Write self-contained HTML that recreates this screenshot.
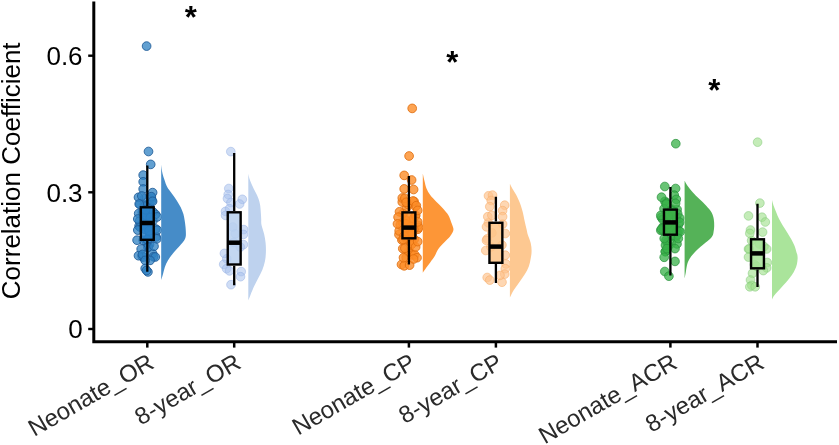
<!DOCTYPE html>
<html><head><meta charset="utf-8"><title>Correlation Coefficient plot</title>
<style>html,body{margin:0;padding:0;background:#fff}body{width:839px;height:445px;overflow:hidden}</style>
</head><body>
<svg width="839" height="445" viewBox="0 0 839 445" style="display:block">
<rect width="839" height="445" fill="#fff"/>
<g fill="rgba(49,130,195,0.76)" stroke="rgba(30,90,150,0.85)" stroke-width="1">
<circle cx="149.2" cy="205.0" r="4.35"/>
<circle cx="151.4" cy="198.3" r="4.35"/>
<circle cx="144.3" cy="204.7" r="4.35"/>
<circle cx="139.9" cy="204.2" r="4.35"/>
<circle cx="151.8" cy="200.7" r="4.35"/>
<circle cx="144.3" cy="198.8" r="4.35"/>
<circle cx="143.0" cy="223.4" r="4.35"/>
<circle cx="147.4" cy="227.6" r="4.35"/>
<circle cx="156.0" cy="236.9" r="4.35"/>
<circle cx="149.5" cy="244.6" r="4.35"/>
<circle cx="142.3" cy="212.2" r="4.35"/>
<circle cx="149.3" cy="207.7" r="4.35"/>
<circle cx="139.1" cy="226.1" r="4.35"/>
<circle cx="146.7" cy="241.8" r="4.35"/>
<circle cx="149.6" cy="226.1" r="4.35"/>
<circle cx="147.2" cy="215.7" r="4.35"/>
<circle cx="138.7" cy="213.5" r="4.35"/>
<circle cx="150.7" cy="213.8" r="4.35"/>
<circle cx="145.0" cy="206.1" r="4.35"/>
<circle cx="153.1" cy="212.0" r="4.35"/>
<circle cx="143.2" cy="240.3" r="4.35"/>
<circle cx="147.5" cy="239.0" r="4.35"/>
<circle cx="149.8" cy="234.9" r="4.35"/>
<circle cx="140.1" cy="227.1" r="4.35"/>
<circle cx="147.4" cy="240.0" r="4.35"/>
<circle cx="144.9" cy="229.3" r="4.35"/>
<circle cx="139.5" cy="221.1" r="4.35"/>
<circle cx="144.2" cy="211.9" r="4.35"/>
<circle cx="152.9" cy="220.8" r="4.35"/>
<circle cx="155.7" cy="229.0" r="4.35"/>
<circle cx="149.1" cy="230.9" r="4.35"/>
<circle cx="150.4" cy="211.9" r="4.35"/>
<circle cx="146.2" cy="215.3" r="4.35"/>
<circle cx="145.6" cy="209.8" r="4.35"/>
<circle cx="155.5" cy="214.4" r="4.35"/>
<circle cx="150.3" cy="217.7" r="4.35"/>
<circle cx="152.5" cy="253.6" r="4.35"/>
<circle cx="142.1" cy="256.0" r="4.35"/>
<circle cx="153.5" cy="256.8" r="4.35"/>
<circle cx="148.3" cy="246.9" r="4.35"/>
<circle cx="143.0" cy="257.1" r="4.35"/>
<circle cx="148.0" cy="247.3" r="4.35"/>
<circle cx="143.2" cy="175.1" r="4.35"/>
<circle cx="143.2" cy="181.8" r="4.35"/>
<circle cx="143.2" cy="189.0" r="4.35"/>
<circle cx="152.6" cy="192.6" r="4.35"/>
<circle cx="138.5" cy="197.3" r="4.35"/>
<circle cx="141.8" cy="196.0" r="4.35"/>
<circle cx="151.3" cy="196.7" r="4.35"/>
<circle cx="152.6" cy="201.4" r="4.35"/>
<circle cx="139.2" cy="204.0" r="4.35"/>
<circle cx="157.3" cy="216.9" r="4.35"/>
<circle cx="137.8" cy="219.0" r="4.35"/>
<circle cx="137.8" cy="230.1" r="4.35"/>
<circle cx="157.3" cy="230.1" r="4.35"/>
<circle cx="137.1" cy="240.2" r="4.35"/>
<circle cx="156.7" cy="238.9" r="4.35"/>
<circle cx="154.0" cy="246.3" r="4.35"/>
<circle cx="141.2" cy="249.0" r="4.35"/>
<circle cx="138.5" cy="255.7" r="4.35"/>
<circle cx="142.5" cy="254.4" r="4.35"/>
<circle cx="155.3" cy="257.0" r="4.35"/>
<circle cx="150.0" cy="260.4" r="4.35"/>
<circle cx="145.2" cy="260.4" r="4.35"/>
<circle cx="145.2" cy="268.5" r="4.35"/>
<circle cx="147.9" cy="271.9" r="4.35"/>
<circle cx="146.6" cy="270.5" r="4.35"/>
<circle cx="146.6" cy="46.1" r="4.35"/>
<circle cx="148.5" cy="151.5" r="4.35"/>
<circle cx="150.7" cy="164.4" r="4.35"/>
</g>
<path d="M161.2,164.7C161.4,166.2 161.9,170.9 162.5,173.5C163.1,176.1 163.8,177.9 164.6,180.2C165.4,182.4 166.0,184.8 167.2,187.0C168.4,189.2 170.4,191.5 172.0,193.7C173.6,195.9 175.2,198.2 176.7,200.4C178.1,202.7 179.6,204.9 180.7,207.2C181.8,209.4 182.7,211.8 183.4,213.9C184.0,216.0 184.2,217.9 184.6,220.0C184.9,222.1 185.3,224.4 185.5,226.7C185.7,228.9 185.9,231.7 185.9,233.5C185.9,235.3 185.9,236.2 185.5,237.5C185.1,238.8 184.5,240.0 183.4,241.6C182.3,243.2 180.5,245.0 178.7,247.0C176.9,249.0 174.5,251.5 172.7,253.7C170.9,255.9 169.2,258.1 167.9,260.4C166.6,262.6 165.6,264.9 164.8,267.2C164.0,269.4 163.6,271.8 163.0,273.9C162.4,276.0 161.5,279.0 161.2,280.0Z" fill="#468CC8"/>
<path d="M147.3,165.4V206.1M147.3,241.0V271.8" stroke="#000" stroke-width="2.3" fill="none"/>
<rect x="140.85" y="207.3" width="12.9" height="32.5" fill="rgba(40,128,200,0.85)" stroke="#000" stroke-width="2.4"/>
<path d="M140.85,223.0H153.75" stroke="#000" stroke-width="4.5"/>
<g fill="rgba(170,195,238,0.56)" stroke="rgba(150,175,228,0.5)" stroke-width="1">
<circle cx="240.3" cy="247.1" r="4.35"/>
<circle cx="235.3" cy="233.8" r="4.35"/>
<circle cx="232.8" cy="227.0" r="4.35"/>
<circle cx="226.8" cy="258.8" r="4.35"/>
<circle cx="233.7" cy="242.4" r="4.35"/>
<circle cx="228.8" cy="188.5" r="4.35"/>
<circle cx="228.2" cy="194.5" r="4.35"/>
<circle cx="227.5" cy="198.6" r="4.35"/>
<circle cx="242.3" cy="199.3" r="4.35"/>
<circle cx="239.6" cy="204.0" r="4.35"/>
<circle cx="230.9" cy="202.6" r="4.35"/>
<circle cx="225.5" cy="211.4" r="4.35"/>
<circle cx="229.5" cy="208.7" r="4.35"/>
<circle cx="243.7" cy="229.6" r="4.35"/>
<circle cx="225.5" cy="215.4" r="4.35"/>
<circle cx="224.4" cy="253.4" r="4.35"/>
<circle cx="223.7" cy="264.3" r="4.35"/>
<circle cx="226.6" cy="268.7" r="4.35"/>
<circle cx="241.2" cy="271.6" r="4.35"/>
<circle cx="240.5" cy="276.7" r="4.35"/>
<circle cx="231.0" cy="284.7" r="4.35"/>
<circle cx="243.4" cy="244.6" r="4.35"/>
<circle cx="243.4" cy="234.4" r="4.35"/>
<circle cx="229.5" cy="270.9" r="4.35"/>
<circle cx="230.8" cy="151.6" r="4.35"/>
</g>
<path d="M248.3,173.8C248.5,174.6 248.8,176.6 249.4,178.5C250.0,180.4 251.1,182.9 252.1,185.2C253.1,187.4 254.3,189.8 255.4,192.0C256.5,194.2 257.7,196.5 258.5,198.7C259.3,200.9 259.8,203.2 260.2,205.4C260.6,207.7 260.6,209.9 260.8,212.2C261.0,214.4 261.1,216.8 261.2,218.9C261.3,221.0 261.0,222.5 261.5,225.0C262.0,227.5 263.4,231.0 264.1,234.0C264.8,237.0 265.3,240.0 265.6,243.0C265.9,246.0 266.0,249.0 265.9,252.0C265.8,255.0 265.6,258.0 265.0,261.0C264.4,264.0 263.5,267.0 262.3,270.0C261.1,273.0 259.3,276.0 257.8,279.0C256.3,282.0 254.7,285.0 253.3,288.0C252.0,291.0 250.5,294.9 249.7,297.0C248.9,299.1 248.5,299.9 248.3,300.5Z" fill="#BED2EE"/>
<path d="M234.2,152.9V211.1M234.2,265.7V285.3" stroke="#000" stroke-width="2.3" fill="none"/>
<rect x="227.75" y="212.3" width="12.9" height="52.2" fill="rgba(185,208,238,0.85)" stroke="#000" stroke-width="2.4"/>
<path d="M227.75,242.7H240.65" stroke="#000" stroke-width="4.5"/>
<g fill="rgba(253,141,40,0.8)" stroke="rgba(225,110,15,0.85)" stroke-width="1">
<circle cx="406.4" cy="208.0" r="4.35"/>
<circle cx="402.3" cy="202.0" r="4.35"/>
<circle cx="402.3" cy="198.0" r="4.35"/>
<circle cx="415.4" cy="206.5" r="4.35"/>
<circle cx="407.9" cy="204.4" r="4.35"/>
<circle cx="414.1" cy="201.5" r="4.35"/>
<circle cx="410.7" cy="232.5" r="4.35"/>
<circle cx="406.0" cy="227.6" r="4.35"/>
<circle cx="414.2" cy="239.3" r="4.35"/>
<circle cx="401.9" cy="240.0" r="4.35"/>
<circle cx="399.0" cy="234.6" r="4.35"/>
<circle cx="415.1" cy="216.1" r="4.35"/>
<circle cx="407.3" cy="236.5" r="4.35"/>
<circle cx="399.2" cy="230.9" r="4.35"/>
<circle cx="414.8" cy="227.4" r="4.35"/>
<circle cx="413.4" cy="218.8" r="4.35"/>
<circle cx="402.9" cy="222.9" r="4.35"/>
<circle cx="402.5" cy="222.4" r="4.35"/>
<circle cx="417.9" cy="229.2" r="4.35"/>
<circle cx="405.7" cy="220.1" r="4.35"/>
<circle cx="417.9" cy="225.3" r="4.35"/>
<circle cx="418.5" cy="227.5" r="4.35"/>
<circle cx="409.3" cy="238.9" r="4.35"/>
<circle cx="413.8" cy="229.4" r="4.35"/>
<circle cx="407.4" cy="238.3" r="4.35"/>
<circle cx="407.1" cy="239.7" r="4.35"/>
<circle cx="400.3" cy="224.9" r="4.35"/>
<circle cx="409.3" cy="240.5" r="4.35"/>
<circle cx="403.9" cy="236.2" r="4.35"/>
<circle cx="412.4" cy="233.5" r="4.35"/>
<circle cx="411.5" cy="241.1" r="4.35"/>
<circle cx="405.6" cy="223.9" r="4.35"/>
<circle cx="403.0" cy="213.5" r="4.35"/>
<circle cx="403.2" cy="239.5" r="4.35"/>
<circle cx="415.7" cy="215.4" r="4.35"/>
<circle cx="411.0" cy="226.4" r="4.35"/>
<circle cx="410.2" cy="252.5" r="4.35"/>
<circle cx="406.2" cy="257.4" r="4.35"/>
<circle cx="408.4" cy="252.0" r="4.35"/>
<circle cx="410.8" cy="244.9" r="4.35"/>
<circle cx="402.8" cy="248.6" r="4.35"/>
<circle cx="412.6" cy="255.0" r="4.35"/>
<circle cx="412.1" cy="243.8" r="4.35"/>
<circle cx="414.7" cy="254.8" r="4.35"/>
<circle cx="404.2" cy="188.9" r="4.35"/>
<circle cx="413.6" cy="189.5" r="4.35"/>
<circle cx="404.9" cy="198.3" r="4.35"/>
<circle cx="406.2" cy="202.3" r="4.35"/>
<circle cx="413.0" cy="201.0" r="4.35"/>
<circle cx="416.3" cy="205.7" r="4.35"/>
<circle cx="417.7" cy="210.4" r="4.35"/>
<circle cx="399.5" cy="211.8" r="4.35"/>
<circle cx="398.1" cy="217.2" r="4.35"/>
<circle cx="397.5" cy="223.9" r="4.35"/>
<circle cx="417.7" cy="221.9" r="4.35"/>
<circle cx="401.5" cy="264.5" r="4.35"/>
<circle cx="404.2" cy="265.8" r="4.35"/>
<circle cx="409.6" cy="265.1" r="4.35"/>
<circle cx="417.0" cy="257.7" r="4.35"/>
<circle cx="413.6" cy="259.0" r="4.35"/>
<circle cx="403.5" cy="257.7" r="4.35"/>
<circle cx="404.9" cy="248.3" r="4.35"/>
<circle cx="415.6" cy="247.0" r="4.35"/>
<circle cx="417.7" cy="241.6" r="4.35"/>
<circle cx="412.2" cy="108.4" r="4.35"/>
<circle cx="409.1" cy="156.0" r="4.35"/>
<circle cx="404.2" cy="175.4" r="4.35"/>
<circle cx="411.6" cy="180.0" r="4.35"/>
</g>
<path d="M422.8,173.4C423.1,174.8 424.0,179.0 424.6,181.5C425.2,184.0 425.5,185.9 426.4,188.2C427.3,190.4 428.6,192.8 430.2,195.0C431.8,197.2 434.2,199.5 436.3,201.7C438.4,203.9 441.0,206.2 443.0,208.4C445.0,210.7 447.1,212.9 448.4,215.2C449.8,217.4 450.3,219.9 451.1,221.9C451.9,223.9 452.7,226.0 453.1,227.4C453.5,228.8 453.5,229.2 453.4,230.1C453.3,231.0 453.0,231.7 452.4,232.8C451.8,233.9 451.1,235.2 449.8,236.8C448.5,238.4 446.3,240.2 444.4,242.2C442.5,244.2 439.9,246.8 438.3,249.0C436.7,251.2 436.3,253.5 434.9,255.7C433.6,257.9 431.6,260.4 430.2,262.4C428.8,264.4 427.4,266.1 426.2,267.8C425.0,269.5 423.4,272.0 422.8,272.8Z" fill="#FD9637"/>
<path d="M408.9,176.0V211.2M408.9,239.5V264.4" stroke="#000" stroke-width="2.3" fill="none"/>
<rect x="402.45" y="212.4" width="12.9" height="25.9" fill="rgba(253,140,35,0.85)" stroke="#000" stroke-width="2.4"/>
<path d="M402.45,227.6H415.35" stroke="#000" stroke-width="4.5"/>
<g fill="rgba(253,195,140,0.66)" stroke="rgba(248,175,110,0.6)" stroke-width="1">
<circle cx="501.9" cy="245.0" r="4.35"/>
<circle cx="502.6" cy="224.1" r="4.35"/>
<circle cx="488.4" cy="222.9" r="4.35"/>
<circle cx="491.9" cy="232.9" r="4.35"/>
<circle cx="490.9" cy="247.0" r="4.35"/>
<circle cx="488.5" cy="195.8" r="4.35"/>
<circle cx="492.5" cy="195.1" r="4.35"/>
<circle cx="491.2" cy="200.5" r="4.35"/>
<circle cx="489.8" cy="206.6" r="4.35"/>
<circle cx="504.7" cy="205.2" r="4.35"/>
<circle cx="502.6" cy="210.6" r="4.35"/>
<circle cx="487.8" cy="216.7" r="4.35"/>
<circle cx="491.9" cy="215.3" r="4.35"/>
<circle cx="502.6" cy="216.7" r="4.35"/>
<circle cx="486.5" cy="226.8" r="4.35"/>
<circle cx="505.3" cy="233.5" r="4.35"/>
<circle cx="487.2" cy="238.9" r="4.35"/>
<circle cx="486.5" cy="240.4" r="4.35"/>
<circle cx="485.8" cy="250.5" r="4.35"/>
<circle cx="505.3" cy="255.2" r="4.35"/>
<circle cx="506.0" cy="264.0" r="4.35"/>
<circle cx="505.3" cy="268.7" r="4.35"/>
<circle cx="504.7" cy="274.1" r="4.35"/>
<circle cx="487.2" cy="277.5" r="4.35"/>
<circle cx="489.8" cy="280.1" r="4.35"/>
<circle cx="502.0" cy="282.2" r="4.35"/>
<circle cx="500.0" cy="275.4" r="4.35"/>
</g>
<path d="M509.9,183.8C510.3,184.6 511.2,186.6 512.3,188.5C513.4,190.4 515.2,192.9 516.4,195.2C517.6,197.4 518.6,199.8 519.5,202.0C520.4,204.2 521.1,206.5 521.8,208.7C522.5,210.9 523.0,213.2 523.5,215.4C524.0,217.7 524.4,219.9 524.9,222.2C525.4,224.4 526.0,226.8 526.5,228.9C527.0,231.0 527.2,232.7 527.9,235.0C528.6,237.3 530.1,240.3 530.7,242.9C531.3,245.5 531.6,248.1 531.6,250.7C531.6,253.3 531.2,256.0 530.7,258.6C530.2,261.2 529.8,263.8 528.8,266.4C527.8,269.0 526.4,271.7 524.8,274.3C523.2,276.9 521.1,279.6 519.3,282.2C517.5,284.8 515.4,287.4 513.8,290.0C512.2,292.6 510.5,296.2 509.9,297.5Z" fill="#FDC891"/>
<path d="M495.9,196.7V221.6M495.9,264.0V283.0" stroke="#000" stroke-width="2.3" fill="none"/>
<rect x="489.45" y="222.8" width="12.9" height="40.0" fill="rgba(253,196,135,0.85)" stroke="#000" stroke-width="2.4"/>
<path d="M489.45,246.6H502.35" stroke="#000" stroke-width="4.5"/>
<g fill="rgba(58,178,74,0.76)" stroke="rgba(40,145,60,0.72)" stroke-width="1">
<circle cx="664.9" cy="201.4" r="4.35"/>
<circle cx="666.4" cy="202.8" r="4.35"/>
<circle cx="661.3" cy="217.3" r="4.35"/>
<circle cx="678.7" cy="224.2" r="4.35"/>
<circle cx="676.3" cy="227.7" r="4.35"/>
<circle cx="672.5" cy="213.7" r="4.35"/>
<circle cx="671.8" cy="209.2" r="4.35"/>
<circle cx="676.1" cy="236.8" r="4.35"/>
<circle cx="677.1" cy="209.5" r="4.35"/>
<circle cx="667.3" cy="217.5" r="4.35"/>
<circle cx="663.0" cy="226.8" r="4.35"/>
<circle cx="676.1" cy="217.4" r="4.35"/>
<circle cx="677.3" cy="231.9" r="4.35"/>
<circle cx="663.4" cy="231.0" r="4.35"/>
<circle cx="677.7" cy="213.9" r="4.35"/>
<circle cx="671.8" cy="227.2" r="4.35"/>
<circle cx="672.5" cy="210.9" r="4.35"/>
<circle cx="673.5" cy="227.0" r="4.35"/>
<circle cx="676.6" cy="232.1" r="4.35"/>
<circle cx="667.1" cy="229.7" r="4.35"/>
<circle cx="677.4" cy="234.8" r="4.35"/>
<circle cx="664.0" cy="208.8" r="4.35"/>
<circle cx="673.3" cy="214.4" r="4.35"/>
<circle cx="671.6" cy="236.3" r="4.35"/>
<circle cx="668.1" cy="215.6" r="4.35"/>
<circle cx="669.6" cy="227.7" r="4.35"/>
<circle cx="662.8" cy="219.4" r="4.35"/>
<circle cx="663.4" cy="227.9" r="4.35"/>
<circle cx="676.7" cy="219.3" r="4.35"/>
<circle cx="668.0" cy="224.2" r="4.35"/>
<circle cx="667.0" cy="242.5" r="4.35"/>
<circle cx="668.4" cy="246.2" r="4.35"/>
<circle cx="665.4" cy="251.5" r="4.35"/>
<circle cx="671.3" cy="243.4" r="4.35"/>
<circle cx="665.3" cy="251.7" r="4.35"/>
<circle cx="666.0" cy="240.4" r="4.35"/>
<circle cx="664.8" cy="186.5" r="4.35"/>
<circle cx="675.6" cy="188.5" r="4.35"/>
<circle cx="661.5" cy="197.2" r="4.35"/>
<circle cx="674.3" cy="195.2" r="4.35"/>
<circle cx="676.3" cy="199.3" r="4.35"/>
<circle cx="675.6" cy="203.3" r="4.35"/>
<circle cx="666.2" cy="204.0" r="4.35"/>
<circle cx="660.8" cy="215.4" r="4.35"/>
<circle cx="679.7" cy="218.1" r="4.35"/>
<circle cx="679.7" cy="222.2" r="4.35"/>
<circle cx="660.8" cy="230.3" r="4.35"/>
<circle cx="679.0" cy="231.0" r="4.35"/>
<circle cx="661.5" cy="229.0" r="4.35"/>
<circle cx="680.3" cy="231.7" r="4.35"/>
<circle cx="665.5" cy="245.2" r="4.35"/>
<circle cx="677.0" cy="243.9" r="4.35"/>
<circle cx="675.0" cy="248.6" r="4.35"/>
<circle cx="664.2" cy="257.3" r="4.35"/>
<circle cx="675.0" cy="261.4" r="4.35"/>
<circle cx="664.8" cy="271.5" r="4.35"/>
<circle cx="668.9" cy="276.2" r="4.35"/>
<circle cx="664.2" cy="238.5" r="4.35"/>
<circle cx="678.3" cy="238.5" r="4.35"/>
<circle cx="666.9" cy="248.6" r="4.35"/>
<circle cx="675.8" cy="143.7" r="4.35"/>
</g>
<path d="M684.6,180.8C685.1,181.6 686.0,183.6 687.3,185.5C688.7,187.4 690.7,189.9 692.7,192.2C694.7,194.4 697.1,196.8 699.4,199.0C701.6,201.2 704.2,203.5 706.2,205.7C708.2,207.9 710.3,210.2 711.6,212.4C712.9,214.7 713.4,216.9 713.8,219.2C714.2,221.4 714.2,223.8 714.2,225.9C714.2,228.0 713.9,230.0 713.6,231.7C713.3,233.3 713.2,234.5 712.5,235.8C711.8,237.2 710.8,238.2 709.1,239.8C707.4,241.4 704.8,243.2 702.4,245.2C700.0,247.2 697.1,249.8 695.0,252.0C692.9,254.2 691.0,256.5 689.6,258.7C688.2,260.9 687.5,263.1 686.9,265.4C686.3,267.6 686.2,270.0 685.8,272.2C685.4,274.4 684.8,277.4 684.6,278.5Z" fill="#55B258"/>
<path d="M670.4,187.0V208.4M670.4,235.9V275.5" stroke="#000" stroke-width="2.3" fill="none"/>
<rect x="663.95" y="209.6" width="12.9" height="25.1" fill="rgba(60,176,70,0.85)" stroke="#000" stroke-width="2.4"/>
<path d="M663.95,222.4H676.85" stroke="#000" stroke-width="4.5"/>
<g fill="rgba(160,225,140,0.62)" stroke="rgba(130,200,120,0.5)" stroke-width="1">
<circle cx="751.6" cy="240.6" r="4.35"/>
<circle cx="764.0" cy="246.6" r="4.35"/>
<circle cx="754.4" cy="264.6" r="4.35"/>
<circle cx="759.4" cy="244.0" r="4.35"/>
<circle cx="756.5" cy="266.3" r="4.35"/>
<circle cx="759.9" cy="203.1" r="4.35"/>
<circle cx="748.5" cy="215.9" r="4.35"/>
<circle cx="762.0" cy="217.2" r="4.35"/>
<circle cx="765.3" cy="222.0" r="4.35"/>
<circle cx="750.5" cy="230.0" r="4.35"/>
<circle cx="749.8" cy="233.4" r="4.35"/>
<circle cx="762.6" cy="232.1" r="4.35"/>
<circle cx="748.5" cy="249.0" r="4.35"/>
<circle cx="766.7" cy="249.0" r="4.35"/>
<circle cx="749.2" cy="249.0" r="4.35"/>
<circle cx="748.5" cy="257.1" r="4.35"/>
<circle cx="767.3" cy="262.5" r="4.35"/>
<circle cx="766.7" cy="267.9" r="4.35"/>
<circle cx="752.5" cy="273.3" r="4.35"/>
<circle cx="750.5" cy="280.0" r="4.35"/>
<circle cx="751.8" cy="285.4" r="4.35"/>
<circle cx="749.8" cy="286.8" r="4.35"/>
<circle cx="755.2" cy="286.8" r="4.35"/>
<circle cx="763.3" cy="270.6" r="4.35"/>
<circle cx="757.6" cy="142.2" r="4.35"/>
</g>
<path d="M772.0,200.1C772.2,201.0 772.8,203.5 773.5,205.5C774.2,207.5 775.3,209.9 776.2,212.2C777.1,214.4 778.0,216.8 779.1,219.0C780.2,221.2 781.5,223.5 782.9,225.7C784.2,227.9 785.8,230.2 787.2,232.4C788.6,234.7 790.1,236.9 791.3,239.2C792.5,241.4 793.8,243.8 794.6,245.9C795.5,248.0 796.0,250.5 796.4,252.0C796.8,253.5 797.1,253.6 797.3,254.7C797.5,255.8 797.7,257.2 797.6,258.8C797.5,260.4 797.3,262.4 796.9,264.2C796.5,266.0 795.8,267.8 795.0,269.6C794.2,271.4 793.3,273.0 791.9,275.0C790.5,277.0 788.5,279.5 786.6,281.7C784.7,283.9 782.5,286.1 780.5,288.4C778.5,290.6 775.8,293.3 774.4,295.2C773.0,297.1 772.4,298.8 772.0,299.5Z" fill="#AAE49B"/>
<path d="M757.5,203.7V238.1M757.5,269.5V286.9" stroke="#000" stroke-width="2.3" fill="none"/>
<rect x="751.05" y="239.3" width="12.9" height="29.0" fill="rgba(165,225,150,0.85)" stroke="#000" stroke-width="2.4"/>
<path d="M751.05,253.4H763.95" stroke="#000" stroke-width="4.5"/>
<g stroke="#000" fill="none">
<path d="M93.8,1.6V341.7H837" stroke-width="3" stroke-linejoin="miter"/>
<path d="M88.2,329.0H93" stroke-width="2.4"/>
<path d="M88.2,192.3H93" stroke-width="2.4"/>
<path d="M88.2,55.7H93" stroke-width="2.4"/>
<path d="M147.3,342V347.6" stroke-width="2.5"/>
<path d="M234.2,342V347.6" stroke-width="2.5"/>
<path d="M408.9,342V347.6" stroke-width="2.5"/>
<path d="M495.9,342V347.6" stroke-width="2.5"/>
<path d="M670.4,342V347.6" stroke-width="2.5"/>
<path d="M757.5,342V347.6" stroke-width="2.5"/>
</g>
<g font-family="'Liberation Sans', Arial, sans-serif" fill="#000">
<text x="82.6" y="338.3" font-size="26" text-anchor="end">0</text>
<text x="82.6" y="201.6" font-size="26" text-anchor="end">0.3</text>
<text x="82.6" y="65.0" font-size="26" text-anchor="end">0.6</text>
<text transform="translate(20.3,170.8) rotate(-90)" font-size="26" text-anchor="middle">Correlation Coefficient</text>
<text transform="translate(155.6,367) rotate(-30)" font-size="24" text-anchor="end" fill="#2a2a2a">Neonate_OR</text>
<text transform="translate(242.5,367) rotate(-30)" font-size="24" text-anchor="end" fill="#2a2a2a">8-year_OR</text>
<text transform="translate(417.2,367) rotate(-30)" font-size="24" text-anchor="end" fill="#2a2a2a">Neonate_CP</text>
<text transform="translate(504.2,367) rotate(-30)" font-size="24" text-anchor="end" fill="#2a2a2a">8-year_CP</text>
<text transform="translate(678.7,367) rotate(-30)" font-size="24" text-anchor="end" fill="#2a2a2a">Neonate_ACR</text>
<text transform="translate(765.8,367) rotate(-30)" font-size="24" text-anchor="end" fill="#2a2a2a">8-year_ACR</text>
<text x="190.8" y="27.8" font-size="31" font-weight="bold" text-anchor="middle">*</text>
<text x="452.3" y="73.0" font-size="31" font-weight="bold" text-anchor="middle">*</text>
<text x="714.2" y="100.6" font-size="31" font-weight="bold" text-anchor="middle">*</text>
</g>
</svg>
</body></html>
